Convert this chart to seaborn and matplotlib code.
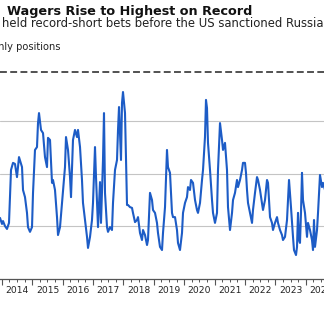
import matplotlib
matplotlib.use("Agg")
import matplotlib.pyplot as plt
import matplotlib.transforms as mtransforms
import numpy as np
import pandas as pd
import seaborn as sns

# Weekly observations (decimal year) and short-only positions
week = [
    2013.940, 2014.006, 2014.039, 2014.104, 2014.170, 2014.236, 2014.302, 2014.368,
    2014.433, 2014.499, 2014.565, 2014.664, 2014.697, 2014.762, 2014.828, 2014.861,
    2014.927, 2014.993, 2015.026, 2015.091, 2015.157, 2015.190, 2015.223, 2015.289,
    2015.355, 2015.420, 2015.486, 2015.519, 2015.585, 2015.651, 2015.683, 2015.749,
    2015.815, 2015.848, 2015.914, 2015.980, 2016.012, 2016.078, 2016.111, 2016.177,
    2016.243, 2016.276, 2016.308, 2016.341, 2016.407, 2016.473, 2016.506, 2016.572,
    2016.637, 2016.670, 2016.736, 2016.802, 2016.835, 2016.901, 2016.966, 2016.999,
    2017.065, 2017.098, 2017.164, 2017.230, 2017.262, 2017.328, 2017.361, 2017.394,
    2017.460, 2017.493, 2017.558, 2017.624, 2017.657, 2017.723, 2017.789, 2017.822,
    2017.855, 2017.920, 2017.953, 2017.986, 2018.052, 2018.085, 2018.118, 2018.151,
    2018.216, 2018.282, 2018.315, 2018.381, 2018.447, 2018.480, 2018.545, 2018.611,
    2018.644, 2018.710, 2018.776, 2018.808, 2018.874, 2018.940, 2018.973, 2019.039,
    2019.104, 2019.137, 2019.203, 2019.269, 2019.302, 2019.368, 2019.433, 2019.466,
    2019.532, 2019.598, 2019.631, 2019.697, 2019.762, 2019.795, 2019.861, 2019.927,
    2019.960, 2020.026, 2020.091, 2020.124, 2020.190, 2020.223, 2020.289, 2020.355,
    2020.420, 2020.453, 2020.519, 2020.585, 2020.618, 2020.683, 2020.716, 2020.749,
    2020.782, 2020.848, 2020.914, 2020.947, 2021.012, 2021.078, 2021.111, 2021.177,
    2021.243, 2021.276, 2021.341, 2021.407, 2021.440, 2021.506, 2021.572, 2021.605,
    2021.670, 2021.736, 2021.769, 2021.835, 2021.901, 2021.933, 2021.999, 2022.032,
    2022.065, 2022.098, 2022.164, 2022.230, 2022.262, 2022.328, 2022.394, 2022.427,
    2022.493, 2022.591, 2022.657, 2022.723, 2022.756, 2022.822, 2022.887, 2022.920,
    2022.986, 2023.052, 2023.085, 2023.151, 2023.216, 2023.249, 2023.315, 2023.381,
    2023.414, 2023.447, 2023.512, 2023.578, 2023.611, 2023.677, 2023.710, 2023.743,
    2023.776, 2023.808, 2023.841, 2023.874, 2023.907, 2023.973, 2024.039, 2024.072,
    2024.137, 2024.203, 2024.236, 2024.269, 2024.302, 2024.368, 2024.401, 2024.466,
    2024.532, 2024.565, 2024.631, 2024.729,
]
short_positions = [
    23.2, 20.9, 22.0, 20.1, 19.0, 21.3, 41.4, 44.1,
    43.7, 38.7, 46.3, 42.5, 33.8, 31.1, 25.1, 19.7,
    17.9, 19.7, 32.7, 49.0, 50.1, 59.2, 63.0, 56.6,
    55.4, 46.3, 42.5, 53.6, 52.8, 36.5, 37.6, 33.8,
    23.5, 16.7, 19.7, 28.9, 33.8, 42.5, 53.9, 49.0,
    38.7, 31.1, 41.4, 52.8, 56.6, 53.9, 56.6, 50.1,
    37.6, 28.9, 22.4, 16.0, 11.8, 16.0, 22.4, 28.9,
    50.1, 38.7, 19.7, 36.8, 21.3, 45.2, 63.0, 32.7,
    19.7, 17.9, 19.7, 18.6, 28.9, 41.4, 45.2, 56.6,
    65.3, 45.2, 66.8, 71.0, 63.0, 45.2, 28.1, 28.1,
    27.3, 27.0, 25.1, 21.6, 22.4, 23.5, 17.5, 14.8,
    18.6, 16.7, 12.9, 14.8, 32.7, 30.0, 26.2, 25.1,
    21.3, 17.5, 12.2, 11.0, 17.5, 27.3, 49.0, 42.5,
    40.3, 25.1, 23.5, 23.5, 18.6, 13.7, 11.0, 17.5,
    25.1, 28.9, 31.1, 34.9, 33.8, 37.6, 36.5, 30.0,
    26.2, 25.1, 28.9, 37.6, 41.4, 53.9, 68.0, 64.9,
    51.7, 41.4, 30.0, 25.1, 21.3, 25.1, 41.4, 59.2,
    52.8, 49.0, 51.7, 41.4, 27.3, 18.6, 25.1, 30.0,
    32.7, 37.6, 34.9, 37.6, 41.4, 44.1, 44.1, 40.3,
    33.8, 28.9, 25.1, 21.3, 26.2, 32.7, 38.7, 37.6,
    33.8, 26.2, 30.0, 37.6, 36.5, 23.5, 21.3, 18.6,
    21.3, 23.5, 21.3, 18.6, 16.7, 14.8, 16.0, 22.4,
    30.0, 37.6, 27.3, 16.0, 11.0, 9.1, 12.2, 25.1,
    14.8, 13.7, 25.1, 40.3, 30.0, 25.1, 16.0, 21.3,
    18.6, 14.8, 11.0, 22.4, 12.2, 18.6, 25.1, 39.5,
    34.9, 36.5, 33.8, 35.7,
]
year_labels = [2014, 2015, 2016, 2017, 2018, 2019, 2020, 2021, 2022, 2023, 2024]
gridline_levels = [20, 40, 60]

title = "Wagers Rise to Highest on Record"
subtitle = "held record-short bets before the US sanctioned Russia"
legend_label = "Short-only positions"

df = pd.DataFrame({"week": week, "short_positions": short_positions})

sns.set_theme(style="white")
plt.rcParams["font.family"] = ["DejaVu Sans"]

W, H = 324, 323
fig = plt.figure(figsize=(W / 100, H / 100), dpi=100)
fig.patch.set_facecolor("white")

ax_bottom_px, ax_top_px = 279, 72
ax = fig.add_axes([0, (H - ax_bottom_px) / H, 1, (ax_bottom_px - ax_top_px) / H])
ax.set_facecolor("white")

for lvl in gridline_levels:
    ax.axhline(lvl, color="#c4c4c4", lw=0.8, zorder=1)

sns.lineplot(data=df, x="week", y="short_positions", ax=ax, color="#1d5cc6",
             linewidth=1.5, zorder=3, estimator=None, sort=False)

x0 = 2013.94
ax.set_ylim(0, 78.6)
ax.axhline(78.6, color="#222222", lw=1.1, ls=(0, (4.5, 2.2)), zorder=1, clip_on=False)

for side in ["top", "left", "right"]:
    ax.spines[side].set_visible(False)
ax.spines["bottom"].set_color("#555555")
ax.spines["bottom"].set_linewidth(0.9)

years = np.arange(2013, 2026)
ax.set_xticks(years)
ax.set_xticks([y + q / 4 for y in years for q in (1, 2, 3)], minor=True)
ax.set_xlim(x0, x0 + W / 30.4)
ax.tick_params(axis="x", which="major", direction="out", length=4, width=0.8,
               color="#555555", labelbottom=False, bottom=True)
ax.tick_params(axis="x", which="minor", direction="out", length=2.2, width=0.7,
               color="#555555", bottom=True)
ax.set_yticks([])
ax.set_xlabel("")
ax.set_ylabel("")

trans = mtransforms.blended_transform_factory(ax.transData, fig.transFigure)
for yr in year_labels:
    ax.text(yr + 0.5, 1 - 286 / H, str(yr), transform=trans, ha="center", va="top",
            fontsize=6.6, color="#222222", clip_on=False)

fig.text(252 / W, 1 - 15 / H, title, ha="right", va="baseline",
         fontsize=9.2, fontweight="bold", color="#111111")
fig.text(323 / W, 1 - 27 / H, subtitle, ha="right", va="baseline",
         fontsize=8.4, color="#222222")
fig.text(61 / W, 1 - 50.5 / H, legend_label, ha="right", va="baseline",
         fontsize=7.1, color="#222222")

fig.savefig("out.png", dpi=100, facecolor="white")
